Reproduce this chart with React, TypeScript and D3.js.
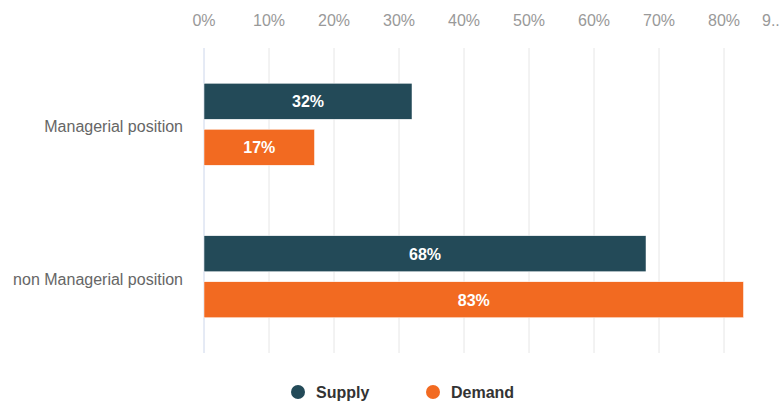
import React from "react";
import * as d3 from "d3";

const categories = ["Managerial position", "non Managerial position"];
const seriesNames = ["Supply", "Demand"];
const supplyValues = [32, 68];
const demandValues = [17, 83];
const tickValues = [0, 10, 20, 30, 40, 50, 60, 70, 80, 90];
const colors = ["#234a58", "#f26a21"];

const W = 782;
const H = 403;
const FONT = "'Liberation Sans', Arial, Helvetica, sans-serif";

export default function App() {
  const x = d3.scaleLinear().domain([0, 90]).range([204, 789]);
  const y = d3.scaleBand().domain(categories).range([48, 353]);
  const series = [supplyValues, demandValues];
  const barH = 36;
  const gap = 10;

  return (
    <svg width={W} height={H} style={{ position: "absolute", left: 0, top: 0, fontFamily: FONT }}>
      <rect width={W} height={H} fill="#fff" />
      {tickValues.map((t) => {
        const px = x(t);
        const overflow = px + 16 > W;
        return (
          <g key={t}>
            {t > 0 && px < W && (
              <line x1={px} x2={px} y1={48} y2={353} stroke="#e6e6e6" strokeWidth={1} />
            )}
            <text
              x={overflow ? px - 27 : px}
              y={26}
              textAnchor={overflow ? "start" : "middle"}
              fontSize={16}
              fill="#999"
            >
              {overflow ? String(t).charAt(0) + ".." : `${t}%`}
            </text>
          </g>
        );
      })}
      <line x1={x(0)} x2={x(0)} y1={48} y2={353} stroke="#ccd6eb" strokeWidth={1} />
      {categories.map((c, ci) => {
        const center = (y(c) as number) + y.bandwidth() / 2;
        return (
          <g key={c}>
            <text x={183} y={center + 8} textAnchor="end" fontSize={16} fill="#666">
              {c}
            </text>
            {series.map((vals, si) => {
              const top = center - barH - gap / 2 + si * (barH + gap);
              const v = vals[ci];
              return (
                <g key={si}>
                  <rect
                    x={x(0)}
                    y={top}
                    width={x(v) - x(0)}
                    height={barH}
                    fill={colors[si]}
                    stroke="#fff"
                    strokeWidth={0.5}
                  />
                  <text
                    x={(x(0) + x(v)) / 2}
                    y={top + barH / 2 + 6}
                    textAnchor="middle"
                    fontSize={16}
                    fontWeight="bold"
                    fill="#fff"
                  >
                    {`${v}%`}
                  </text>
                </g>
              );
            })}
          </g>
        );
      })}
      {seriesNames.map((s, i) => {
        const cx = [298, 433][i];
        return (
          <g key={s}>
            <circle cx={cx} cy={392} r={7} fill={colors[i]} />
            <text x={cx + 18} y={398} fontSize={16} fontWeight="bold" fill="#333">
              {s}
            </text>
          </g>
        );
      })}
    </svg>
  );
}
